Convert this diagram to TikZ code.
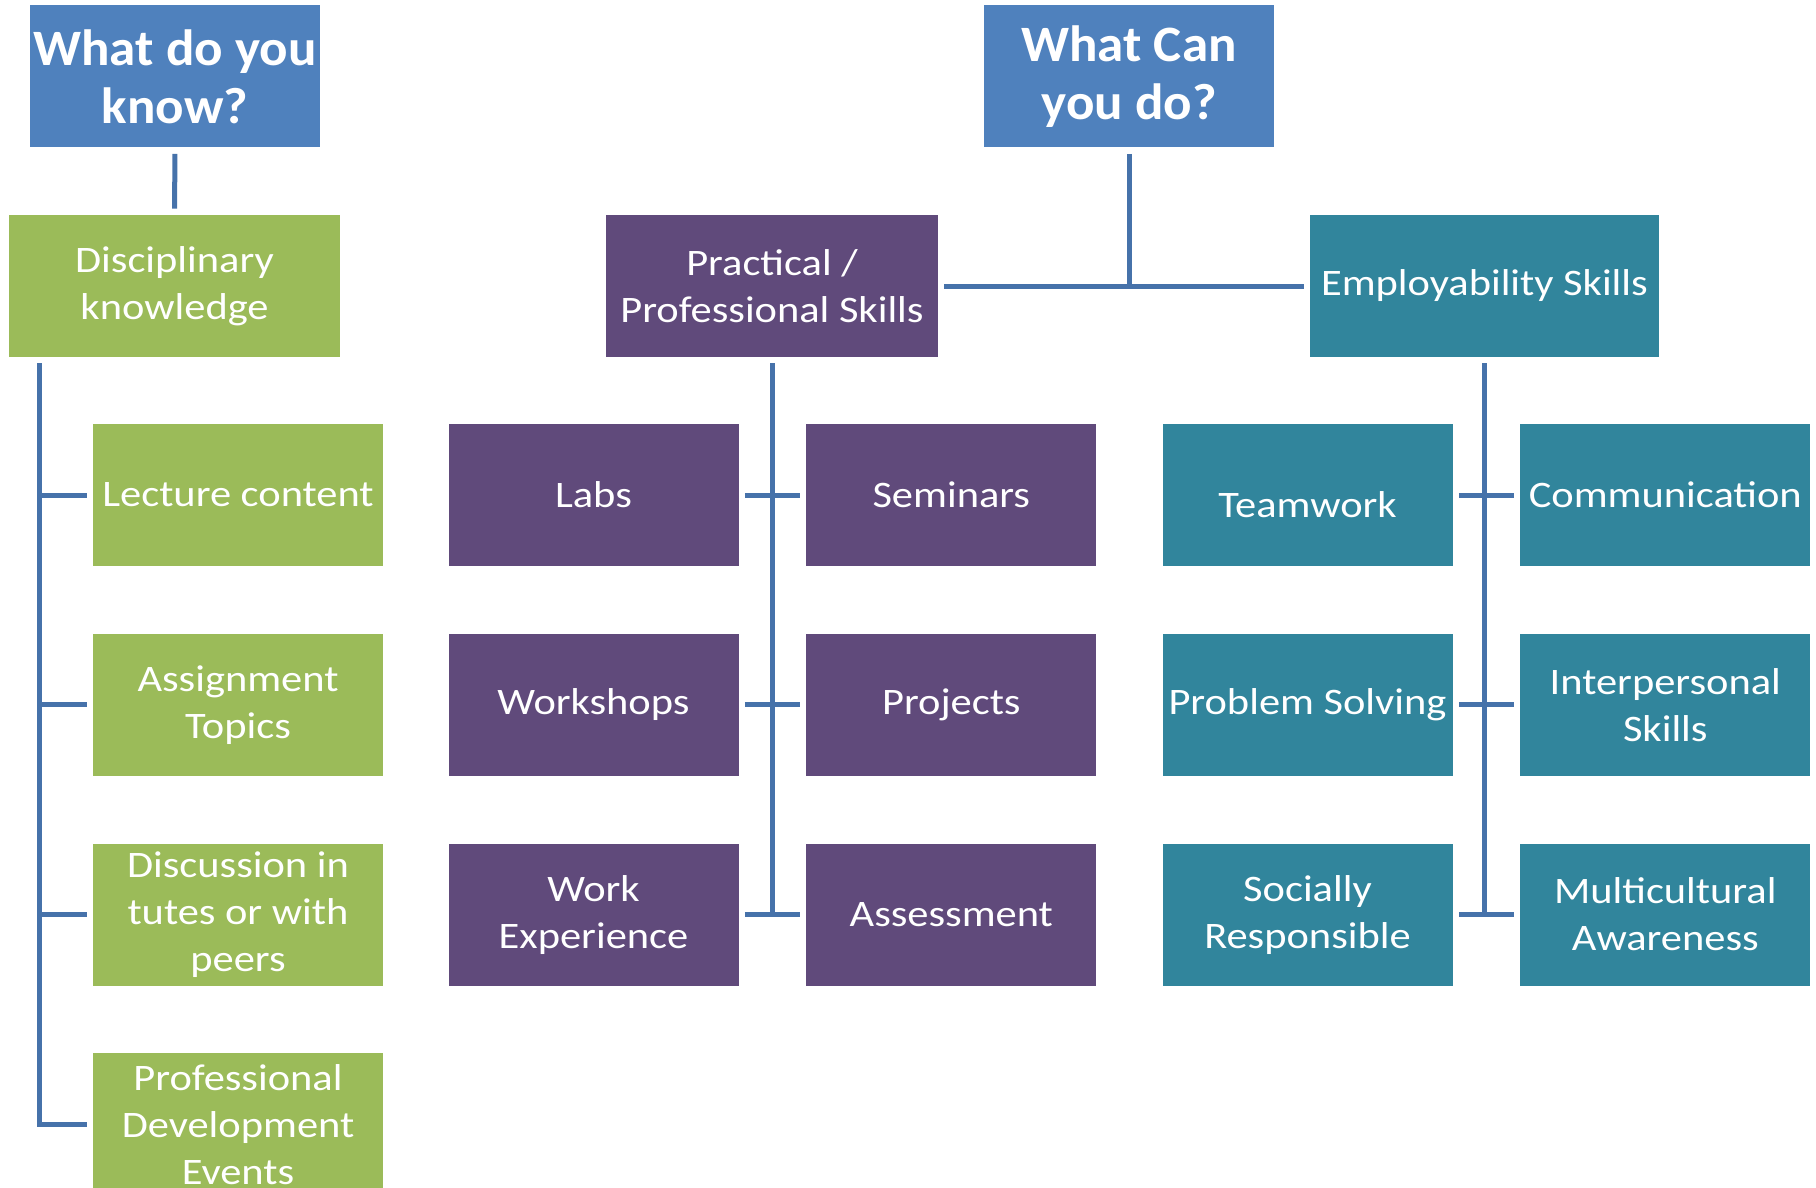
\documentclass[tikz,border=0pt]{standalone}
\usepackage{fontspec}
\setmainfont{Carlito}
\newfontfamily\tilefont[FakeStretch=1.135]{Carlito}
\newfontfamily\headfont[FakeStretch=1.04]{Carlito}
\usepackage{tikz}
\usetikzlibrary{positioning}

\definecolor{headblue}{HTML}{4F81BD}
\definecolor{knowgreen}{HTML}{9BBB59}
\definecolor{pracpurple}{HTML}{604A7B}
\definecolor{empteal}{HTML}{31859C}
\definecolor{linkblue}{HTML}{4672AA}

\tikzset{
  tile/.style={fill=#1, text=white, inner sep=0pt, align=center,
    minimum width=145pt, minimum height=71pt,
    font=\tilefont\fontsize{18.7}{23.5}\selectfont},
  headbox/.style={tile=headblue, font=\headfont\fontsize{25.5}{29}\selectfont\bfseries},
  knowbox/.style={tile=knowgreen},
  pracbox/.style={tile=pracpurple},
  empbox/.style={tile=empteal},
  link/.style={draw=linkblue, line width=2.5pt, shorten <=3pt, shorten >=3pt}
}

\begin{document}
\begin{tikzpicture}[x=0.5pt,y=-0.5pt,node distance=33.5pt]
  \useasboundingbox (0,0) rectangle (1816,1188);

  % top row
  \node[headbox] (know) at (175,76.5) {What do you\\know?};
  \node[headbox] (can) at (1129,76.5) {What Can\\you do?};

  \node[knowbox,minimum width=165.5pt] (disc) at (174.5,286) {Disciplinary\\knowledge};
  \node[pracbox,minimum width=166pt] (prac) at (772,286) {Practical /\\Professional Skills};
  \node[empbox,minimum width=174.5pt] (emp) at (1484.5,286) {Employability Skills};

  % knowledge column
  \node[knowbox] (lect) at (238,495) {Lecture content};
  \node[knowbox] (asgn) [below=of lect] {Assignment\\Topics};
  \node[knowbox] (disn) [below=of asgn] {Discussion in\\tutes or with\\peers};
  \node[knowbox] (pdev) [below=of disn] {Professional\\Development\\Events};

  % practical columns
  \node[pracbox] (labs) at (593.5,495) {Labs};
  \node[pracbox] (semi) [right=of labs] {Seminars};
  \node[pracbox] (wshp) [below=of labs] {Workshops};
  \node[pracbox] (proj) [right=of wshp] {Projects};
  \node[pracbox] (wexp) [below=of wshp] {Work\\Experience};
  \node[pracbox] (asmt) [right=of wexp] {Assessment};

  % employability columns
  \node[empbox] (team) at (1307.5,495) {\raisebox{-11pt}[0pt][0pt]{Teamwork}};
  \node[empbox] (comm) [right=of team] {Communication};
  \node[empbox] (prob) [below=of team] {Problem Solving};
  \node[empbox] (intp) [right=of prob] {Interpersonal\\Skills};
  \node[empbox] (soci) [below=of prob] {Socially\\Responsible};
  \node[empbox] (mult) [right=of soci] {Multicultural\\Awareness};

  \coordinate (canjoin) at (can |- prac);
  \coordinate (disctop) at ([xshift=15.5pt]disc.south west);

  \draw[link] (know) -- (disc);
  \draw[link,shorten >=0pt] (can) -- (canjoin);
  \draw[link] (prac) -- (emp);

  \foreach \n in {lect,asgn,disn,pdev}
    \draw[link] (disctop) |- (\n.west);

  \draw[link,shorten >=0pt] (prac) -- (prac |- asmt);
  \draw[link,shorten >=0pt] (emp) -- (emp |- mult);
  \foreach \a/\b in {labs/semi,wshp/proj,wexp/asmt,team/comm,prob/intp,soci/mult}
    \draw[link] (\a) -- (\b);
\end{tikzpicture}
\end{document}
